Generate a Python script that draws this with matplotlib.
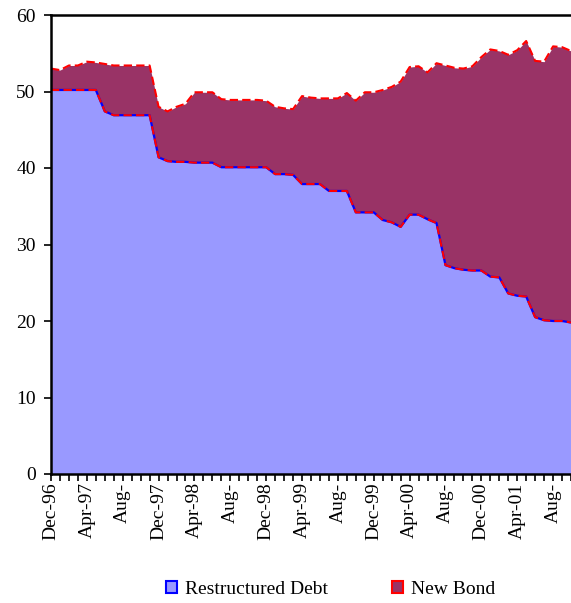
import numpy as np
import matplotlib
matplotlib.use("Agg")
import matplotlib.pyplot as plt
from matplotlib.patches import Patch

plt.rcParams['font.family'] = ['Liberation Serif', 'DejaVu Serif']

# monthly, Dec-96 .. Oct-01
restructured = [50.2, 50.2, 50.2, 50.2, 50.2, 50.2, 47.4, 46.9, 46.9, 46.9,
                46.9, 46.9, 41.4, 40.9, 40.8, 40.8, 40.7, 40.7, 40.7, 40.1,
                40.1, 40.1, 40.1, 40.1, 40.1, 39.2, 39.2, 39.1, 37.9, 37.9,
                37.9, 37.0, 37.0, 37.0, 34.2, 34.2, 34.2, 33.2, 32.9, 32.3,
                33.9, 33.9, 33.3, 32.8, 27.3, 26.9, 26.7, 26.6, 26.6, 25.8,
                25.7, 23.6, 23.3, 23.2, 20.5, 20.1, 20.0, 20.0, 19.8]
new_bond = [2.8, 2.6, 3.2, 3.2, 3.7, 3.6, 6.2, 6.5, 6.5, 6.5,
            6.5, 6.5, 6.6, 6.5, 7.2, 7.6, 9.2, 9.2, 9.2, 8.9,
            8.8, 8.8, 8.8, 8.8, 8.7, 8.8, 8.6, 8.6, 11.5, 11.3,
            11.2, 12.1, 12.1, 12.8, 14.6, 15.7, 15.7, 17.0, 17.7, 19.0,
            19.3, 19.4, 19.2, 20.9, 26.1, 26.2, 26.3, 26.7, 27.9, 29.7,
            29.6, 31.2, 32.1, 33.4, 33.5, 33.8, 35.9, 35.8, 35.5]
tick_labels = ['Dec-96', 'Apr-97', 'Aug-', 'Dec-97', 'Apr-98', 'Aug-',
               'Dec-98', 'Apr-99', 'Aug-', 'Dec-99', 'Apr-00', 'Aug-',
               'Dec-00', 'Apr-01', 'Aug-']

x = np.arange(len(restructured))
r = np.array(restructured)
total = r + np.array(new_bond)

fig = plt.figure(figsize=(5.71, 6.03), dpi=100)
ax = fig.add_axes([51/571, 129/603, 520/571, 459/603])

ax.fill_between(x, 0, r, color='#9999FF', lw=0)
ax.plot(x, r, color='#0000FF', lw=1.6)
ax.fill_between(x, r, total, color='#993366', lw=0)
ax.plot(x, total, color='#FF0000', lw=1.5, linestyle=(0, (4, 2)))
ax.plot(x, r, color='#FF0000', lw=1.5, linestyle=(0, (4, 2)))

ax.set_xlim(0, len(x) - 1)
ax.set_ylim(0, 60)
ax.set_yticks(range(0, 61, 10))
ax.set_xticks(x, minor=True)
ax.set_xticks(x[::4])
ax.set_xticklabels(tick_labels, rotation=90, va='top', ha='center')
ax.tick_params(axis='both', which='both', direction='out', length=5,
               width=1.2, labelsize=14, colors='black')
ax.tick_params(axis='x', which='both', pad=1)
ax.tick_params(axis='y', pad=6)
ax.spines['right'].set_visible(False)
for s in ['left', 'top', 'bottom']:
    ax.spines[s].set_linewidth(1.8)

handles = [Patch(facecolor='#9999FF', edgecolor='#0000FF', lw=1.5),
           Patch(facecolor='#993366', edgecolor='#FF0000', lw=1.5)]
fig.legend(handles, ['Restructured Debt', 'New Bond'], loc='center',
           bbox_to_anchor=(0.579, 0.022), ncol=2, frameon=False,
           fontsize=14, handlelength=0.55, handleheight=0.55,
           handletextpad=0.4, columnspacing=3.3, borderpad=0)

fig.savefig('out.png', dpi=100)
